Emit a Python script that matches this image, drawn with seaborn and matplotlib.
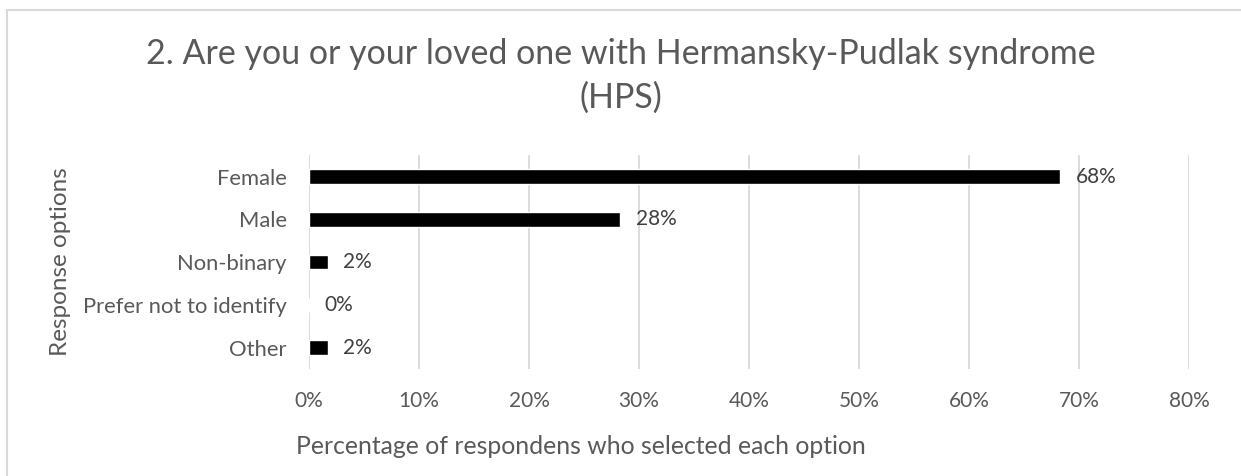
import matplotlib
matplotlib.use("Agg")
import matplotlib.pyplot as plt
import seaborn as sns
from matplotlib.patches import Rectangle
from matplotlib.ticker import FuncFormatter

# survey answers (share of respondents, %)
categories = ["Female", "Male", "Non-binary", "Prefer not to identify", "Other"]
values = [68.3, 28.3, 1.7, 0.0, 1.7]
xticks = [0, 10, 20, 30, 40, 50, 60, 70, 80]

title = "2. Are you or your loved one with Hermansky-Pudlak syndrome\n(HPS)"
xlabel = "Percentage of respondens who selected each option"
ylabel = "Response options"

sns.set_theme(style="white")
plt.rcParams["font.family"] = ["Lato", "DejaVu Sans"]
grey = "#595959"

fig = plt.figure(figsize=(12.41, 4.76), dpi=100)
ax = fig.add_axes([0.249, 0.225, 0.709, 0.449])

sns.barplot(x=values, y=categories, orient="h", color="black", saturation=1,
            width=0.34, ax=ax, zorder=3)

ax.set_xlim(0, 80)
ax.set_xticks(xticks)
ax.xaxis.set_major_formatter(FuncFormatter(lambda v, p: f"{v:.0f}%"))
ax.grid(axis="x", color="#d9d9d9", lw=1.3, zorder=0)
ax.set_axisbelow(True)
for s in ax.spines.values():
    s.set_visible(False)
ax.tick_params(axis="x", length=0, labelcolor=grey, labelsize=15, pad=16)
ax.tick_params(axis="y", length=0, labelcolor=grey, labelsize=15.8, pad=16)

ax.bar_label(ax.containers[0], labels=[f"{round(v)}%" for v in values],
             padding=11, color="#404040", fontsize=15)

ax.set_xlabel("")
ax.set_ylabel(ylabel, color=grey, fontsize=17.5)
ax.yaxis.set_label_coords(-0.27, 0.5)
fig.text(581 / 1241, 1 - 446 / 476, xlabel, color=grey, fontsize=17.8,
         ha="center", va="center")

fig.text(0.5, 1 - 76 / 476, title, color=grey, fontsize=24.5,
         ha="center", va="center", linespacing=1.42)

fig.patches.append(Rectangle((7 / 1241, -0.1), 1.2, 1.1 - 10 / 476, fill=False,
                             edgecolor="#d9d9d9", lw=1.5, transform=fig.transFigure))

fig.savefig("out.png", dpi=100)
